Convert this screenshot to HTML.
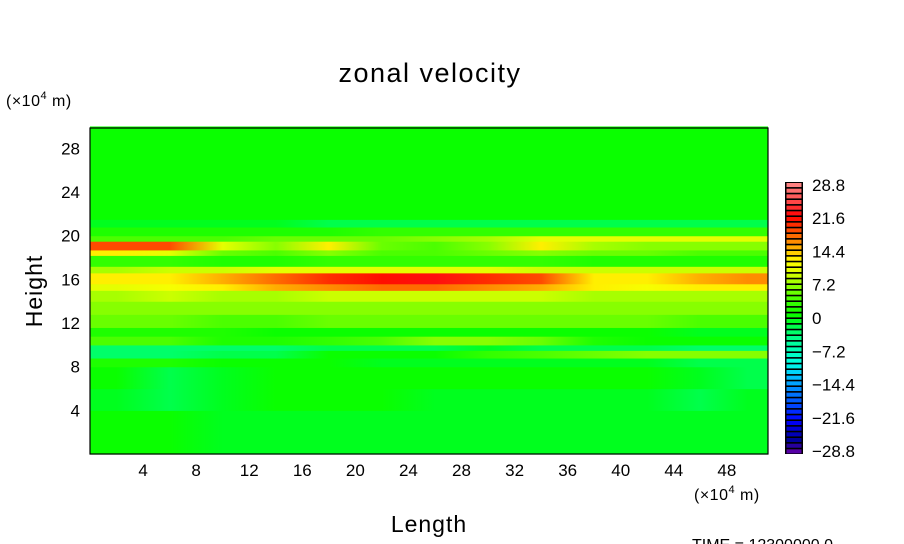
<!DOCTYPE html>
<html><head><meta charset="utf-8"><style>
html,body{margin:0;padding:0;background:#fff;}
svg{display:block;font-family:"Liberation Sans",sans-serif;}
</style></head><body>
<svg id="chart" width="904" height="544" viewBox="0 0 904 544">
<defs id="defs"></defs>
<text x="430" y="82" text-anchor="middle" font-size="27" letter-spacing="1.5">zonal  velocity</text>
<text x="6" y="106" font-size="16" letter-spacing="0.5">(×10<tspan dy="-7" font-size="11">4</tspan><tspan dy="7"> m)</tspan></text>
<text x="694" y="500" font-size="16" letter-spacing="0.5">(×10<tspan dy="-7" font-size="11">4</tspan><tspan dy="7"> m)</tspan></text>
<text x="429" y="532" text-anchor="middle" font-size="23" letter-spacing="1">Length</text>
<text transform="translate(42,291) rotate(-90)" text-anchor="middle" font-size="23" letter-spacing="1">Height</text>
<text x="692" y="550" font-size="16">TIME  =  12300000.0</text>
<g id="field"></g>
<g id="axes"></g>
<g id="cbar"></g>
</svg>
<script>
const xEdges=[0,4,8,12,16,20,24,28,32,36,40,44,48,51.1];
const yEdges=[0,4,6,8,8.8,9.5,10,10.8,11.6,12.8,14,15,15.6,16.6,17.2,18.2,18.7,19.5,20,20.8,21.5,30];
const rowValues=[
[0,0,-1,-1,-1,-1,-1,-1,-1,-1,-1,-1,-1],
[-1,-2,-1,0,0,0,-1,-1,-1,-1,-1,-2,-1],
[0,-2,-1,0,0,1,1,0,0,0,0,-1,-2],
[2,2,1,0,0,-1,-1,-1,-1,-1,-1,-2,-2],
[-3,-3,-2,-2,0,1,1,3,4,5,6,7,7],
[-3,-3,-3,-3,-2,-2,-2,-1,-2,-2,-2,-3,-3],
[4,4,2,2,3,4,6,7,5,2,1,0,0],
[2,2,2,1,1,1,1,1,1,0,0,-1,-1],
[5,5,4,4,5,5,5,5,5,5,5,4,4],
[6,6,6,6,7,7,7,7,6,6,6,6,6],
[8,9,8,8,9,9,9,9,9,8,8,8,8],
[10,11,13,15,16,17,17,16,15,12,11,13,13],
[12,12,15,17,20,21,22,20,18,12,12,15,16],
[8,9,9,10,10,10,10,10,9,9,9,9,9],
[3,3,2,2,3,3,3,3,3,2,2,2,2],
[12,10,5,4,6,4,4,5,7,5,5,4,4],
[19,19,10,6,12,5,4,7,13,8,6,6,6],
[4,4,4,5,5,5,6,8,10,10,10,10,10],
[2,2,2,2,2,3,3,3,3,3,3,3,3],
[-1,-1,-1,-1,-2,-2,-2,-2,-2,-2,-2,-2,-2],
[1,1,1,1,1,1,1,1,1,1,1,1,1]
];
const xTicks=[4,8,12,16,20,24,28,32,36,40,44,48];
const yTicks=[4,8,12,16,20,24,28];
const cbarLabels=["28.8","21.6","14.4","7.2","0","−7.2","−14.4","−21.6","−28.8"];
const levelMin=-28.8, levelMax=28.8, levelStep=1.2;

const NS="http://www.w3.org/2000/svg";
const PX0=90,PX1=768,PY0=128,PY1=454,XMAX=51.1,YMAX=29.86;
const sx=v=>PX0+v/XMAX*(PX1-PX0);
const sy=v=>PY1-v/YMAX*(PY1-PY0);
const stops=[[-28.8,[110,0,170]],[-26,[0,0,150]],[-21.6,[0,0,255]],[-19,[0,60,255]],[-14.4,[0,150,255]],[-12,[0,200,255]],[-9.6,[0,255,230]],[-4.8,[0,255,150]],[-1.2,[0,255,60]],[0,[0,255,0]],[3.6,[60,255,0]],[7.2,[150,255,0]],[9.6,[220,255,0]],[12,[255,255,0]],[14.4,[255,190,0]],[18,[255,90,0]],[21.6,[255,0,0]],[24,[255,60,60]],[28.8,[255,140,140]]];
function col(v){
  v=Math.max(levelMin,Math.min(levelMax,v));
  for(let i=0;i<stops.length-1;i++){const [a,ca]=stops[i],[b,cb]=stops[i+1];
    if(v<=b){const t=(v-a)/(b-a);return 'rgb('+ca.map((c,k)=>Math.round(c+(cb[k]-c)*t)).join(',')+')';}}
  return 'rgb(255,140,140)';
}
const q=v=>Math.floor(v/levelStep)*levelStep+levelStep/2;
function mk(tag,attrs,parent){const e=document.createElementNS(NS,tag);for(const k in attrs)e.setAttribute(k,attrs[k]);parent.appendChild(e);return e;}
const field=document.getElementById('field');
const defs=document.getElementById('defs');
rowValues.forEach((row,r)=>{
  const g=mk('linearGradient',{id:'rg'+r,gradientUnits:'userSpaceOnUse',x1:PX0,y1:0,x2:PX1,y2:0},defs);
  row.forEach((v,c)=>{
    const xc=(xEdges[c]+xEdges[c+1])/2;
    mk('stop',{offset:(xc/XMAX),'stop-color':col(q(v))},g);
  });
  const y0=sy(yEdges[r+1]),y1=sy(yEdges[r]);
  const e=mk('rect',{x:PX0,y:y0,width:PX1-PX0,height:y1-y0+0.6,fill:'url(#rg'+r+')'},field);
  
  
});
const axes=document.getElementById('axes');
const fr=mk('rect',{x:PX0,y:PY0,width:PX1-PX0,height:PY1-PY0,fill:'none',stroke:'#000','stroke-width':1.2},axes);


xTicks.forEach(t=>{const e=mk('text',{x:sx(t),y:476,'text-anchor':'middle','font-size':17},axes);e.textContent=t;
  
  });
yTicks.forEach(t=>{const e=mk('text',{x:80,y:sy(t)+6,'text-anchor':'end','font-size':17},axes);e.textContent=t;
  
  });
const cbar=document.getElementById('cbar');
const nBox=Math.round((levelMax-levelMin)/levelStep);
const CB0=182,CB1=454,bh=(CB1-CB0)/nBox;
mk('rect',{x:785,y:CB0,width:18,height:CB1-CB0,fill:'#000'},cbar);
for(let i=0;i<nBox;i++){
  const v=levelMax-levelStep*(i+0.5);
  const e=mk('rect',{x:786.5,y:CB0+i*bh+1,width:15,height:bh-1.6,fill:col(v)},cbar);
  
  
}
cbarLabels.forEach((l,i)=>{
  const y=CB0+bh/2+i*((CB1-CB0-bh)/(cbarLabels.length-1));
  const e=mk('text',{x:812,y:y+6,'font-size':17},cbar);e.textContent=l;
  
  
});
</script>
</body></html>
